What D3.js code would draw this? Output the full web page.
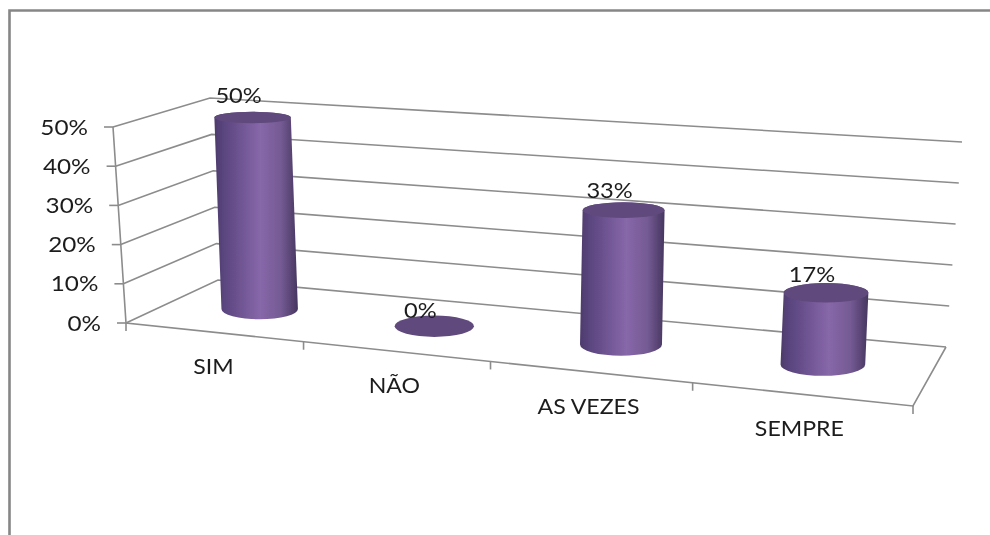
<!DOCTYPE html>
<html><head><meta charset="utf-8">
<script src="https://cdnjs.cloudflare.com/ajax/libs/d3/7.8.5/d3.min.js"></script>
<style>html,body{margin:0;padding:0;background:#fff}svg{display:block}text{font-family:Lato,"Open Sans",sans-serif;fill:#1c1c1c}</style>
</head><body><svg id="c" width="990" height="535"></svg>
<script>
const categories = ["SIM","NÃO","AS VEZES","SEMPRE"];
const values = [50,0,33,17];
const yTicks = [0,10,20,30,40,50];

// Projected corners of the 3D plot box
const floorQuad = [[126,323],[913,406],[946,347],[218,280]]; // front-left, front-right, back-right, back-left
const topQuad   = [[113,127],[933,181],[962,142],[210,98]];

function homography(q){
  const [[x0,y0],[x1,y1],[x2,y2],[x3,y3]] = q;
  const dx1=x1-x2,dx2=x3-x2,sx=x0-x1+x2-x3,dy1=y1-y2,dy2=y3-y2,sy=y0-y1+y2-y3;
  const det=dx1*dy2-dx2*dy1;
  const g=(sx*dy2-dx2*sy)/det,h=(dx1*sy-sx*dy1)/det;
  const a=x1-x0+g*x1,b=x3-x0+h*x3,c=x0,d=y1-y0+g*y1,e=y3-y0+h*y3,f=y0;
  return (u,v)=>{const w=g*u+h*v+1;return [(a*u+b*v+c)/w,(d*u+e*v+f)/w];};
}
const H0=homography(floorQuad),H1=homography(topQuad);
const y=d3.scaleLinear().domain([0,50]).range([0,1]);
const x=d3.scaleBand().domain(categories).range([0,1]);
const warp=d3.scalePow().exponent(0.972).domain([0,1]).range([0,1]);
const lean=d3.scaleLinear().domain([0,1]).range([-10,12]);   // sideways lean of a full-height cylinder
const radius=d3.scaleLinear().domain([0,1]).range([37.5,43]); // cylinder radius across the depth of the view
const P=(u,v,val)=>{const a=H0(u,v),b=H1(u,v),t=y(val);return [a[0]+(b[0]-a[0])*t,a[1]+(b[1]-a[1])*t];};
const line=d3.line();

const svg=d3.select("#c");
const defs=svg.append("defs");
const grad=defs.append("linearGradient").attr("id","cyl");
[[0,"#4d3b6c"],[.12,"#5b4680"],[.55,"#8767a9"],[.8,"#745a93"],[1,"#46365f"]].forEach(s=>grad.append("stop").attr("offset",s[0]).attr("stop-color",s[1]));
const blur=defs.append("filter").attr("id","soft");
blur.append("feGaussianBlur").attr("stdDeviation",0.45);

const root=svg.append("g").attr("filter","url(#soft)");
const label=(px,py,txt,size,sx)=>root.append("text")
  .attr("transform",`translate(${px},${py}) scale(${sx},1)`)
  .attr("font-size",size).text(txt);

// frame
root.append("path").attr("d",line([[9.5,535],[9.5,10.5],[990,10.5]])).attr("fill","none").attr("stroke","#868686").attr("stroke-width",2.6);

const gridStyle=s=>s.attr("fill","none").attr("stroke","#8c8c8c").attr("stroke-width",1.6);
// walls
yTicks.forEach(t=>{
  gridStyle(root.append("path")).attr("d",line([P(0,0,t),P(0,1,t),P(1,1,t)]));
  const a=P(0,0,t);
  gridStyle(root.append("path")).attr("d",line([a,[a[0]-9,a[1]]]));
  label(a[0]-25,a[1]+7.5,t+"%",21.5,1.13).attr("text-anchor","end");
});
// axes and floor
gridStyle(root.append("path")).attr("d",line([P(0,0,50),P(0,0,0),P(1,0,0),P(1,1,0)]));
d3.range(0,categories.length+1).forEach(i=>{
  const a=P(warp(i/categories.length),0,0);
  gridStyle(root.append("path")).attr("d",line([a,[a[0],a[1]+8]]));
});
// cylinders
const f=v=>0.27-y(v)*0.12;
categories.forEach((c,i)=>{
  const v=values[i],u=warp(x(c)+x.bandwidth()/2);
  const b=P(u,0.5,0),p=P(u,0.5,v),t=[b[0]+lean(u)*y(v),p[1]];
  const rx=radius(u);
  const ryB=rx*f(0),ryT=rx*f(v);
  if(v>0){
    root.append("path").attr("fill","url(#cyl)")
      .attr("d",`M${t[0]-rx},${t[1]}L${b[0]-rx},${b[1]}A${rx},${ryB} 0 0 0 ${b[0]+rx},${b[1]}L${t[0]+rx},${t[1]}A${rx},${ryT} 0 0 0 ${t[0]-rx},${t[1]}Z`);
  }
  root.append("ellipse").attr("cx",t[0]).attr("cy",t[1]).attr("rx",rx).attr("ry",ryT).attr("fill","#604a7b");
  label(t[0]-14,t[1]-(16+y(v)*6)+7.5,v+"%",21.5,1.1).attr("text-anchor","middle");
  const fr=P(u,0,0);
  label(fr[0]-1,fr[1]+35+7,c,21,1.1).attr("text-anchor","middle");
});
</script></body></html>
